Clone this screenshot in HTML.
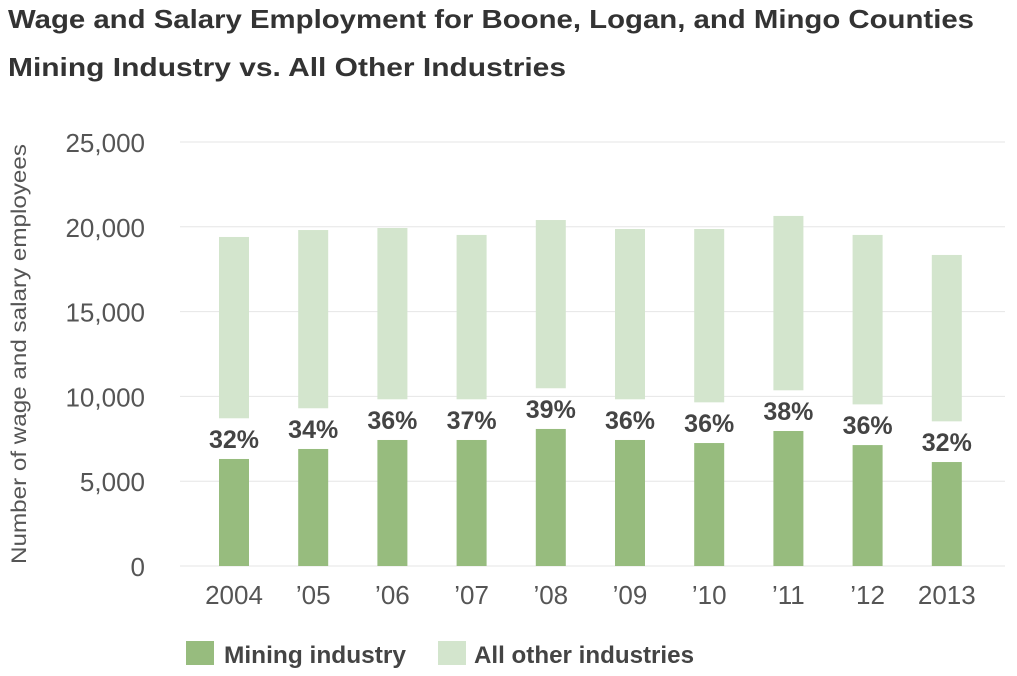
<!DOCTYPE html>
<html><head><meta charset="utf-8"><style>
body{margin:0;background:#fff;font-family:"Liberation Sans",sans-serif;}
svg text{font-family:"Liberation Sans",sans-serif;}
</style></head><body>
<svg id="chart" width="1017" height="671">
<text x="8" y="28" font-size="26" font-weight="bold" fill="#333" textLength="966" lengthAdjust="spacingAndGlyphs">Wage and Salary Employment for Boone, Logan, and Mingo Counties</text>
<text x="8" y="76" font-size="26" font-weight="bold" fill="#333" textLength="558" lengthAdjust="spacingAndGlyphs">Mining Industry vs. All Other Industries</text>
<text transform="translate(26,354) rotate(-90)" text-anchor="middle" font-size="21" fill="#555" textLength="420" lengthAdjust="spacingAndGlyphs">Number of wage and salary employees</text>
<g id="grid"></g><g id="bars"></g>
<g>
<rect x="186" y="641" width="28" height="24" fill="#97bc7e"/>
<text x="224" y="663" font-size="24" font-weight="bold" fill="#444" textLength="182" lengthAdjust="spacingAndGlyphs">Mining industry</text>
<rect x="438" y="641" width="28" height="24" fill="#d3e5cd"/>
<text x="474" y="663" font-size="24" font-weight="bold" fill="#444" textLength="220" lengthAdjust="spacingAndGlyphs">All other industries</text>
</g>
</svg>
<script>
const categories=["2004","’05","’06","’07","’08","’09","’10","’11","’12","2013"];
const mining=[6310,6900,7430,7430,8080,7430,7250,7960,7130,6130];
const totals=[19400,19810,19930,19520,20400,19870,19870,20640,19520,18340];
const pctLabels=["32%","34%","36%","37%","39%","36%","36%","38%","36%","32%"];
const yTicks=[0,5000,10000,15000,20000,25000];
const NS="http://www.w3.org/2000/svg";
const y=v=>566-v/25000*424;
const x=i=>234+i*79.2;
const gap=2400,bw=30;
function mk(t,a,p){const e=document.createElementNS(NS,t);for(const k in a)e.setAttribute(k,a[k]);p.appendChild(e);return e;}
const grid=document.getElementById('grid'),bars=document.getElementById('bars');
yTicks.forEach(v=>{
 const l=mk('line',{x1:180,x2:1005,y1:y(v),y2:y(v),stroke:'#e6e6e6','stroke-width':1},grid);
 
 
 const t=mk('text',{x:145,y:y(v)+10,'text-anchor':'end','font-size':26,fill:'#555'},grid);
 t.textContent=v.toLocaleString('en-US');
 
 
});
categories.forEach((c,i)=>{
 const r=mk('rect',{x:x(i)-bw/2,y:y(mining[i]),width:bw,height:y(0)-y(mining[i]),fill:'#97bc7e'},bars);
 
 
 const lo=mining[i]+gap;
 const r2=mk('rect',{x:x(i)-bw/2,y:y(totals[i]),width:bw,height:y(lo)-y(totals[i]),fill:'#d3e5cd'},bars);
 
 
 const p=mk('text',{x:x(i),y:y(mining[i])-11,'text-anchor':'middle','font-size':25,'font-weight':'bold',fill:'#444'},bars);
 p.textContent=pctLabels[i];
 
 
 const t=mk('text',{x:x(i),y:604,'text-anchor':'middle','font-size':26,fill:'#555'},bars);
 t.textContent=c;
 
 
});
</script>
</body></html>
